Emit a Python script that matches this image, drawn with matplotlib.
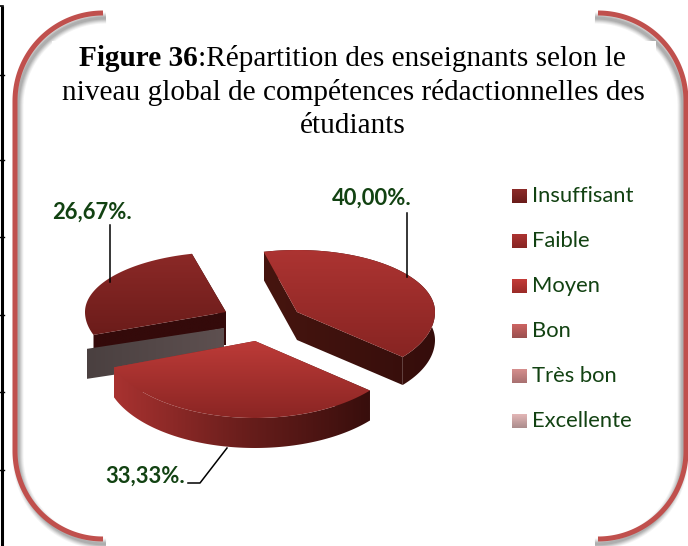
import numpy as np
import matplotlib
matplotlib.use("Agg")
import matplotlib.pyplot as plt
from matplotlib.colors import LinearSegmentedColormap
from matplotlib.patches import Polygon, Rectangle

# Data
categories = ["Insuffisant", "Faible", "Moyen", "Bon", "Très bon", "Excellente"]
values = [26.67, 40.00, 33.33, 0, 0, 0]
value_labels = ["26,67%.", "40,00%.", "33,33%."]

# Legend swatch gradients (top, bottom)
legend_colors = [
    ("#8c2b29", "#691c1a"),
    ("#ad3432", "#862523"),
    ("#c43c39", "#9a2b28"),
    ("#cd6462", "#99504f"),
    ("#d68f8e", "#a87070"),
    ("#e3b7b7", "#ab8c8c"),
]

GREEN = "#124212"
RED = "#c0504d"
FIRST_ANGLE = 250
TITLE_SIZE = 21.1

# slice index -> center, radii (a, b back, b front), depth, top gradient, side gradient
slices = {
    0: dict(c=(226, 312), a=141, bb=60, bf=67, depth=16, rim=False, top=("#8c2927", "#6b1c1a"), side=("#340a0a", "#340a0a")),
    1: dict(c=(297, 312), a=138, bb=62, bf=70, depth=28, rim=True, top=("#ad3432", "#872422"), side=("#46150f", "#350d0b")),
    2: dict(c=(255, 341), a=150, bb=60, bf=77, depth=30, rim=True, top=("#bd3b38", "#8a2523"), side=("#a83230", "#6a1e1c", "#380e0c")),
}
draw_order = [0, 1, 2]

fig = plt.figure(figsize=(6.88, 5.46), dpi=100)
ax = fig.add_axes([0, 0, 1, 1])
ax.set_xlim(0, 688)
ax.set_ylim(546, 0)
ax.axis("off")


def gradient(colors, extent, clip=None, zorder=5, horizontal=False):
    cmap = LinearSegmentedColormap.from_list("g", colors)
    g = np.linspace(0, 1, 200).reshape(-1, 1)
    if horizontal:
        g = g.T
    im = ax.imshow(g, cmap=cmap, extent=extent, aspect="auto", zorder=zorder, vmin=0, vmax=1)
    if clip is not None:
        im.set_clip_path(clip)
    return im


def wedge_outline(s, t1, t2):
    th = np.radians(np.linspace(t1, t2, 120))
    b = np.where(np.cos(th) > 0, s["bb"], s["bf"])
    x = s["c"][0] + s["a"] * np.sin(th)
    y = s["c"][1] - b * np.cos(th)
    return np.column_stack([np.r_[s["c"][0], x], np.r_[s["c"][1], y]])


def draw_side(pts, depth, colors, zorder, rim=True):
    # outer rim as one band, the two cut faces as quads, all with one x gradient
    down = np.array([0, depth])
    arc = pts[1:]
    pieces = [
        np.vstack([pts[0], pts[1], pts[1] + down, pts[0] + down]),
        np.vstack([pts[0], pts[-1], pts[-1] + down, pts[0] + down]),
    ]
    if rim:
        pieces.append(np.vstack([arc, arc[::-1] + down]))
    x0, x1 = pts[:, 0].min(), pts[:, 0].max()
    y0, y1 = pts[:, 1].min(), pts[:, 1].max() + depth
    for piece in pieces:
        patch = Polygon(piece, closed=True, fc="none", ec="none", zorder=zorder)
        ax.add_patch(patch)
        gradient(colors, (x0, x1, y1, y0), clip=patch, zorder=zorder, horizontal=True)


# Frame: black rule and ticks at the far left
ax.plot([2, 2], [6, 546], color="black", lw=2.2, zorder=1, solid_capstyle="butt")
ax.plot([0, 3], [6, 6], color="black", lw=1.2, zorder=1)
for ty in [75, 160, 237, 315, 392, 470]:
    ax.plot([0, 4], [ty, ty], color="black", lw=1.0, zorder=1)

# Rounded red brackets with a soft shadow
r = 88
arc = np.radians(np.linspace(0, 90, 60))
left_x, right_x, top_y, bot_y = 15, 686, 13, 539
left_path = np.vstack([
    np.column_stack([left_x + r - r * np.sin(arc), top_y + r - r * np.cos(arc)]),
    np.column_stack([left_x + r - r * np.cos(arc), bot_y - r + r * np.sin(arc)]),
])
right_path = np.column_stack([left_x + right_x - left_path[:, 0], left_path[:, 1]])
for path, dx in [(left_path, 3), (right_path, -3)]:
    for w, al in zip([11, 9, 7, 5, 3], [0.07, 0.09, 0.12, 0.14, 0.16]):
        ax.plot(path[:, 0] + dx, path[:, 1] + 5, color="#555555", alpha=al, lw=w * 0.72, zorder=2, solid_capstyle="butt")
# title box hides the shadow
ax.add_patch(Rectangle((52, 41), 604, 110, fc="white", ec="none", zorder=3))
for path in [left_path, right_path]:
    ax.plot(path[:, 0], path[:, 1], color=RED, lw=5 * 0.72, zorder=4, solid_capstyle="butt")

# Title
title_y = [58, 92, 126]
t = ax.text(79, title_y[0], "Figure 36", family="Liberation Serif", weight="bold", size=TITLE_SIZE, ha="left", va="center", zorder=6)
fig.canvas.draw()
bb = t.get_window_extent().transformed(ax.transData.inverted())
ax.text(bb.x1, title_y[0], ":Répartition des enseignants selon le", family="Liberation Serif", size=TITLE_SIZE, ha="left", va="center", zorder=6)
ax.text(353, title_y[1], "niveau global de compétences rédactionnelles des", family="Liberation Serif", size=TITLE_SIZE, ha="center", va="center", zorder=6)
ax.text(353, title_y[2], "étudiants", family="Liberation Serif", size=TITLE_SIZE, ha="center", va="center", zorder=6)

# Pie slices, angles come from the values
angle = FIRST_ANGLE
spans = {}
for i, v in enumerate(values):
    sweep = 360 * v / sum(values)
    spans[i] = (angle, angle + sweep)
    angle += sweep

z = 10
for i in draw_order:
    s = slices[i]
    pts = wedge_outline(s, *spans[i])
    x0, x1 = pts[:, 0].min(), pts[:, 0].max()
    y0, y1 = pts[:, 1].min(), pts[:, 1].max()
    draw_side(pts, s["depth"], s["side"], z, rim=s["rim"])
    if i == 0:
        # zero-size slices leave a grey face under the first slice
        tip = pts[0]
        grey = np.array([pts[1] + [-7, 14], tip + [-2, 16], tip + [-2, 46], pts[1] + [-7, 44]])
        gp = Polygon(grey, closed=True, fc="none", ec="none", zorder=z)
        ax.add_patch(gp)
        gradient(("#4a4040", "#5e5050"), (grey[:, 0].min(), grey[:, 0].max(), grey[:, 1].max(), grey[:, 1].min()),
                 clip=gp, zorder=z + 1, horizontal=True)
        ax.add_patch(Polygon([tip, tip + [0, 33], tip + [-2, 33], tip + [-2, 0]], closed=True, fc="#340a0a", ec="none", zorder=z))
    top = Polygon(pts, closed=True, fc="none", ec="none", zorder=z + 2)
    ax.add_patch(top)
    gradient(s["top"], (x0 - 1, x1 + 1, y1 + 1, y0 - 1), clip=top, zorder=z + 2)
    z += 3

# Leader lines and value labels
ax.plot([407, 407], [213, 277], color="black", lw=1.1, zorder=30)
ax.plot([110, 110], [225, 282], color="black", lw=1.1, zorder=30)
ax.plot([188, 200, 227], [483, 483, 448], color="black", lw=1.1, zorder=30)
label_pos = [(92, 212), (372, 198), (145, 476)]
for lab, (lx, ly) in zip(value_labels, label_pos):
    ax.text(lx, ly, lab, family="Lato", weight="bold", size=15.8, color=GREEN, ha="center", va="center", zorder=31)

# Legend
for k, (cat, cols) in enumerate(zip(categories, legend_colors)):
    ly = 196 + 45 * k
    gradient(cols, (512, 527, ly + 7, ly - 7), zorder=20)
    ax.text(532, ly, cat, family="Lato", size=15.8, color=GREEN, ha="left", va="center", zorder=21)

ax.set_xlim(0, 688)
ax.set_ylim(546, 0)
fig.savefig("out.png", dpi=100, facecolor="white")
